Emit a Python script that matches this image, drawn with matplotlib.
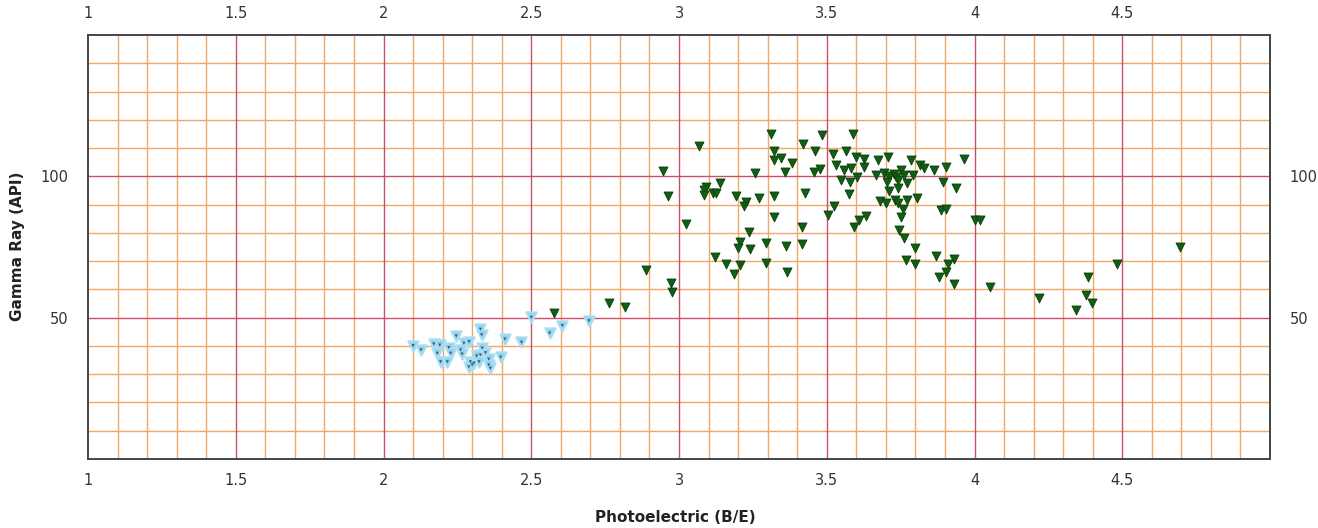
import matplotlib
matplotlib.use("Agg")
import matplotlib.pyplot as plt
import numpy as np

# Green series (Photoelectric, Gamma Ray)
green_x = [3.311, 3.066, 3.320, 3.322, 3.345, 3.382, 3.359, 2.946, 3.257, 3.138,
           3.091, 3.083, 3.083, 3.114, 3.125, 2.963, 3.192, 3.226, 3.221, 3.271,
           3.320, 3.322, 3.023, 3.238, 3.207, 3.198, 3.241, 3.294, 3.362, 3.121,
           3.160, 3.206, 3.185, 3.294, 3.364, 2.890, 2.972, 2.976,
           3.484, 3.588, 3.421, 3.460, 3.520, 3.565, 3.599, 3.627, 3.675, 3.707,
           3.786, 3.814, 3.829, 3.864, 3.904, 3.531, 3.559, 3.582, 3.625, 3.458,
           3.478, 3.548, 3.580, 3.603, 3.667, 3.694, 3.711, 3.728, 3.735, 3.752,
           3.763, 3.793, 3.704, 3.740, 3.771, 3.893, 3.709, 3.740, 3.427, 3.574,
           3.526, 3.503, 3.633, 3.610, 3.593, 3.681, 3.701, 3.731, 3.740, 3.772,
           3.806, 3.757, 3.752, 3.887, 3.904, 3.415, 3.416, 3.746, 3.763, 3.800,
           3.769, 3.797, 3.870, 3.910, 3.881, 3.904,
           3.966, 3.936, 4.000, 4.020, 3.932, 3.930, 4.053, 4.217, 4.384, 4.483,
           4.378, 4.398, 4.345, 4.695,
           2.763, 2.816, 2.577]
green_y = [115.0, 110.8, 109.1, 105.8, 106.4, 104.8, 101.6, 101.9, 101.3, 97.7,
           96.3, 95.2, 93.4, 94.0, 94.2, 93.0, 93.0, 91.0, 89.5, 92.4,
           93.0, 85.7, 83.1, 80.3, 76.9, 74.5, 74.2, 76.3, 75.3, 71.3,
           69.0, 68.6, 65.4, 69.4, 66.3, 66.9, 62.2, 59.2,
           114.6, 115.0, 111.4, 108.9, 107.8, 108.9, 106.9, 106.0, 105.8, 106.9,
           105.8, 104.0, 102.8, 102.2, 103.4, 104.0, 102.2, 102.8, 103.4, 101.6,
           102.5, 98.7, 98.1, 99.6, 100.5, 101.2, 100.1, 100.8, 99.8, 102.2,
           100.5, 100.5, 98.1, 98.7, 97.7, 98.1, 94.8, 96.0, 94.0, 93.7,
           89.5, 86.3, 86.0, 84.5, 82.0, 91.4, 90.7, 91.6, 90.4, 91.6,
           92.2, 88.3, 85.7, 88.1, 88.3, 82.0, 76.1, 81.0, 78.1, 74.7,
           70.4, 69.0, 71.8, 69.0, 64.5, 66.3,
           106.1, 95.8, 84.5, 84.5, 70.6, 61.9, 60.9, 56.8, 64.5, 69.0,
           58.0, 55.1, 52.7, 75.1,
           55.3, 53.7, 51.5]

# Light blue series
blue_x = [2.500, 2.605, 2.695, 2.562, 2.411, 2.467, 2.328, 2.332, 2.246, 2.272,
          2.289, 2.100, 2.127, 2.170, 2.190, 2.182, 2.221, 2.227, 2.193, 2.216,
          2.261, 2.266, 2.294, 2.306, 2.334, 2.345, 2.328, 2.315, 2.356, 2.323,
          2.356, 2.362, 2.289, 2.300, 2.396]
blue_y = [50.1, 47.2, 48.9, 44.5, 42.4, 41.3, 45.9, 43.9, 43.5, 40.9,
          41.5, 40.1, 38.6, 40.7, 40.3, 37.4, 39.4, 37.4, 34.4, 34.4,
          38.6, 37.1, 34.4, 33.9, 39.2, 37.6, 36.8, 36.4, 35.3, 34.4,
          33.3, 32.1, 32.6, 33.3, 36.0]

x_ticks = [1, 1.5, 2, 2.5, 3, 3.5, 4, 4.5]
x_tick_labels = ["1", "1.5", "2", "2.5", "3", "3.5", "4", "4.5"]
y_ticks = [50, 100]
y_tick_labels = ["50", "100"]

fig = plt.figure(figsize=(13.18, 5.28), dpi=100)
ax = fig.add_axes([88/1318, 69/528, (1270-88)/1318, (459-35)/528])
ax.set_xlim(1, 5)
ax.set_ylim(0, 150)

minor_c = "#eea868"
major_c = "#c8506a"
for v in np.arange(1.1, 5.0, 0.1):
    if abs(v*2 - round(v*2)) > 1e-6:
        ax.axvline(v, color=minor_c, lw=1.0, zorder=1)
for v in np.arange(1.5, 5.0, 0.5):
    ax.axvline(v, color=major_c, lw=1.0, zorder=1.5)
for v in range(10, 150, 10):
    if v % 50:
        ax.axhline(v, color=minor_c, lw=1.0, zorder=1)
for v in (50, 100):
    ax.axhline(v, color=major_c, lw=1.0, zorder=1.5)

ax.scatter(blue_x, blue_y, marker="v", s=55, facecolor="#8fd2ee",
           edgecolor="#a8def4", linewidths=1.5, zorder=3)
ax.scatter(blue_x, blue_y, marker="v", s=5, facecolor="#3c5a6a",
           edgecolor="none", zorder=4)
ax.scatter(green_x, green_y, marker="v", s=42, facecolor="#0f5e12",
           edgecolor="#0a3f0c", linewidths=0.6, zorder=3)

for s in ax.spines.values():
    s.set_color("#444444")
    s.set_linewidth(1.4)

ax.set_xticks(x_ticks)
ax.set_xticklabels(x_tick_labels)
ax.set_yticks(y_ticks)
ax.set_yticklabels(y_tick_labels)
ax.tick_params(axis="x", which="both", length=0, pad=10, labelsize=10.5,
               labelcolor="#333333", top=True, labeltop=True, bottom=True, labelbottom=True)
ax.tick_params(axis="y", which="both", length=0, pad=14, labelsize=10.5,
               labelcolor="#333333", left=True, labelleft=True, right=True, labelright=True)

fig.text(675/1318, 1 - 517/528, "Photoelectric (B/E)", ha="center", va="center",
         fontsize=11, fontweight="bold", color="#222222")
fig.text(18/1318, 1 - 246/528, "Gamma Ray (API)", ha="center", va="center",
         rotation=90, fontsize=11, fontweight="bold", color="#222222")

fig.savefig("out.png", dpi=100, facecolor="white")
